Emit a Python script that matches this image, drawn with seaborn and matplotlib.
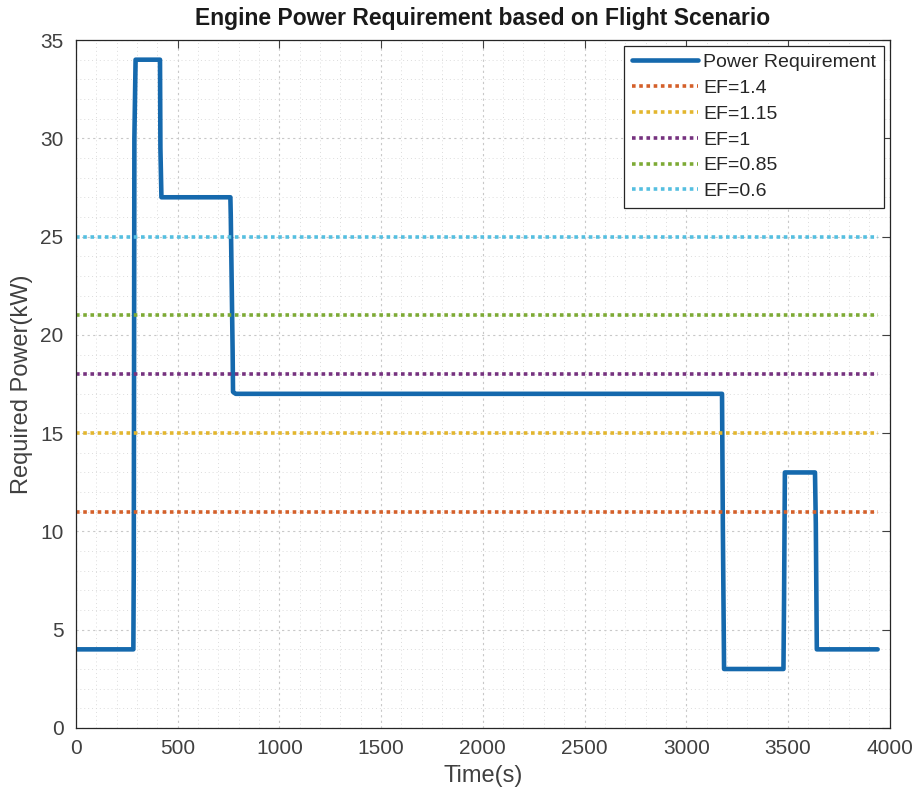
import matplotlib
matplotlib.use("Agg")
import matplotlib.pyplot as plt
from matplotlib.ticker import MultipleLocator
import seaborn as sns
import pandas as pd

# flight scenario power profile (time in s, power in kW)
time_s = [0, 282, 284, 287, 293, 413, 415, 420, 759, 761, 770, 772, 785,
          3176, 3180, 3186, 3478, 3481, 3485, 3633, 3637, 3642, 3941]
power_kw = [4, 4, 8, 30, 34, 34, 29.5, 27, 27, 26, 19.2, 17.1, 17,
            17, 10.3, 3, 3, 6.6, 13, 13, 10.4, 4, 4]

# efficiency-factor reference levels
ef_labels = ["EF=1.4", "EF=1.15", "EF=1", "EF=0.85", "EF=0.6"]
ef_levels = [11, 15, 18, 21, 25]
ef_colors = ["#D4602A", "#E3B62E", "#76327F", "#7DAA35", "#55BFE0"]

sns.set_style("white")
plt.rcParams['font.family'] = ['Liberation Sans', 'DejaVu Sans']

fig = plt.figure(figsize=(9.2, 7.99), dpi=100)
ax = fig.add_axes([0.0826, 0.0889, 0.8844, 0.861])

profile = pd.DataFrame({"Time": time_s, "Power": power_kw})
sns.lineplot(data=profile, x="Time", y="Power", ax=ax, color="#1569AD",
             linewidth=3.3, label="Power Requirement", sort=False)

t_span = [time_s[0], time_s[-1]]
for lab, lvl, col in zip(ef_labels, ef_levels, ef_colors):
    sns.lineplot(x=t_span, y=[lvl, lvl], ax=ax, color=col, linewidth=2.6,
                 linestyle=(0, (1, 1)), label=lab)

ax.set_xlim(0, 4000)
ax.set_ylim(0, 35)
ax.xaxis.set_major_locator(MultipleLocator(500))
ax.xaxis.set_minor_locator(MultipleLocator(100))
ax.yaxis.set_major_locator(MultipleLocator(5))
ax.yaxis.set_minor_locator(MultipleLocator(1))
ax.grid(which="major", color="#c8c8c8", linestyle=(0, (2, 3)), linewidth=0.8)
ax.grid(which="minor", color="#dcdcdc", linestyle=(0, (1, 3)), linewidth=0.7)
ax.set_axisbelow(True)
ax.tick_params(which="major", direction="in", length=6, labelsize=15,
               colors="#404040", top=True, right=True, pad=8)
ax.tick_params(axis="y", pad=9)
ax.tick_params(which="minor", length=0)
for s in ax.spines.values():
    s.set_color("#262626")
    s.set_linewidth(0.9)

ax.set_title("Engine Power Requirement based on Flight Scenario",
             fontsize=16.5, fontweight="bold", pad=11, color="#1a1a1a")
ax.set_xlabel("Time(s)", fontsize=17, color="#404040", labelpad=5)
ax.set_ylabel("Required Power(kW)", fontsize=17, color="#404040", labelpad=5)

leg = ax.legend(loc="upper right", fontsize=14, frameon=True, fancybox=False,
                framealpha=1, edgecolor="#262626", handlelength=3.4,
                handletextpad=0.25, borderpad=0.4, labelspacing=0.42,
                borderaxespad=0.3)
leg.get_frame().set_linewidth(0.9)

fig.savefig("out.png", dpi=100)
